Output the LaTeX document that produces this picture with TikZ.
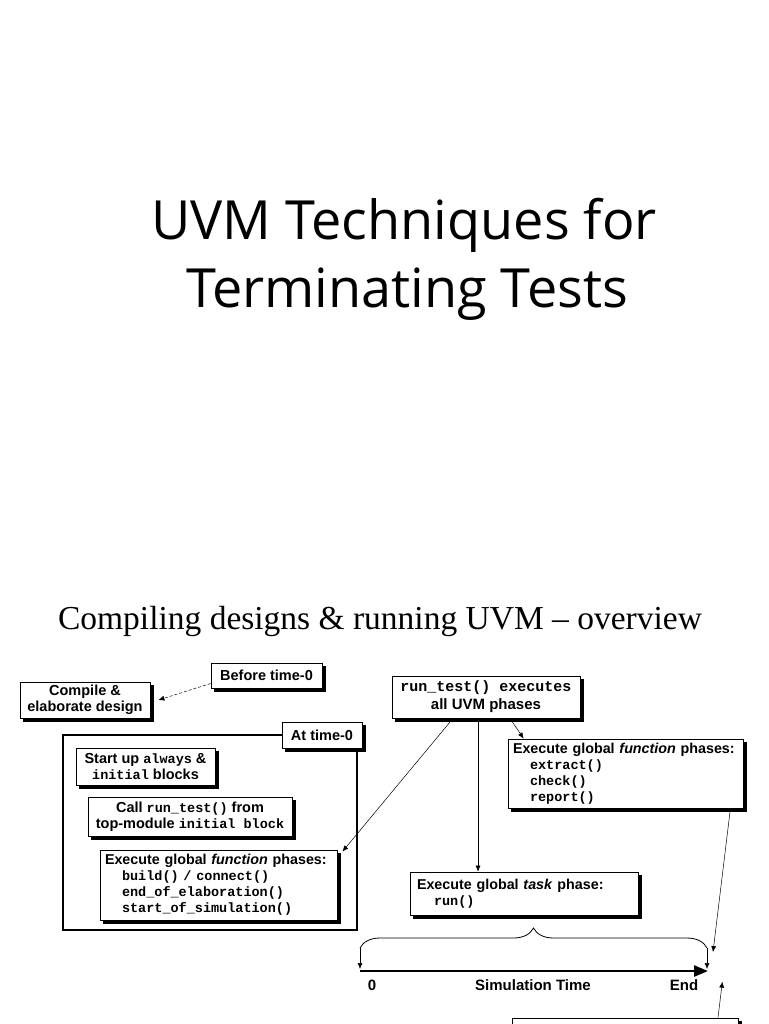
\documentclass[tikz,border=0pt]{standalone}
\usepackage{fontspec}
\setmainfont{Liberation Sans}
\newfontfamily\monof{Liberation Mono}
\newfontfamily\titlef{Open Sans}
\newfontfamily\subf{Liberation Serif}
\newcommand\mytt[1]{{\monof\fontsize{13.5}{16}\selectfont #1}}
\usetikzlibrary{shadows,arrows.meta,decorations.pathreplacing}
\begin{document}
\begin{tikzpicture}[x=1pt,y=-1pt,
  box/.style={draw=black,line width=0.8pt,fill=white,inner sep=0pt,
    copy shadow={shadow xshift=3pt,shadow yshift=-3pt,fill=black,draw=black},
    font=\fontsize{14.5}{16}\selectfont\bfseries},
  phasebox/.style={box,font=\fontsize{14.3}{16}\selectfont\bfseries,align=left},
  conn/.style={line width=0.5pt,-{Latex[length=6pt,width=5pt]}},
  lbl/.style={font=\fontsize{15}{16}\selectfont\bfseries,inner sep=0pt,anchor=base}]
\useasboundingbox (0,0) rectangle (768,1024);
\clip (0,0) rectangle (768,1024);
% titles
\node[font=\titlef\fontsize{54}{68}\selectfont,align=center,anchor=base] (t1) at (404,240) {UVM Techniques for};
\node[font=\titlef\fontsize{54}{68}\selectfont,align=center,anchor=base] (t2) at (407,307) {Terminating Tests};
\node[font=\subf\fontsize{33.5}{36}\selectfont,anchor=base] (sub) at (380,629) {Compiling designs \& running UVM – overview};
% left part
\node[box,minimum width=130pt,minimum height=36pt,align=center] (compile) at (85,700) {Compile \&\\elaborate design};
\node[box,minimum width=111pt,minimum height=25pt] (before) at (266.5,675.5) {Before time-0};
\draw[line width=0.5pt,densely dashed,-{Latex[length=6pt,width=5pt]}] ([yshift=-8pt]before.west) -- ([xshift=8pt]compile.east);
\draw[line width=2.5pt] (63,735) coordinate (fa) rectangle (357,930) coordinate (fb);
\node[box,minimum width=80pt,minimum height=26pt] (at0) at (322,735) {At time-0};
\node[box,minimum width=139pt,minimum height=37pt,align=center] (start) at (145.5,766.5) {Start up \mytt{always} \&\\\mytt{initial} blocks};
\node[box,minimum width=204pt,minimum height=39pt,align=center] (call) at (190,816.5) {Call \mytt{run\_test()} from\\top-module \mytt{initial block}};
\node[phasebox,minimum width=237pt,minimum height=70pt,text width=227pt] (fl) at (218.5,885) {Execute global \textit{function} phases:\\
\hspace*{17pt}\mytt{build() / connect()}\\
\hspace*{17pt}\mytt{end\_of\_elaboration()}\\
\hspace*{17pt}\mytt{start\_of\_simulation()}};
% right part
\node[box,minimum width=188pt,minimum height=42pt,align=center,font=\fontsize{15}{18}\selectfont\bfseries] (rt) at (486,697) {{\monof\fontsize{15}{18}\selectfont run\_test() executes}\\all UVM phases};
\node[phasebox,minimum width=235pt,minimum height=69pt,text width=225pt] (ex) at (625.5,773.5) {Execute global \textit{function} phases:\\
\hspace*{17pt}\mytt{extract()}\\
\hspace*{17pt}\mytt{check()}\\
\hspace*{17pt}\mytt{report()}};
\node[phasebox,minimum width=228pt,minimum height=43pt,text width=214pt] (task) at (524,893.5) {Execute global \textit{task} phase:\\
\hspace*{17pt}\mytt{run()}};
\node[box,minimum width=226pt,minimum height=40pt] (when) at (625,1038) {};
% connectors
\draw[conn] ([xshift=-33pt]rt.south) -- ([xshift=5pt,yshift=-2pt]fl.north east);
\draw[conn] ([xshift=-8pt]rt.south) -- ([xshift=-46pt]task.north);
\draw[conn] ([xshift=24pt]rt.south) -- ([xshift=16pt]ex.north west);
\coordinate (endup) at (713,952);
\draw[conn] ([xshift=-13pt]ex.south east) -- (endup);
% time axis
\coordinate (bl) at (360,948);
\coordinate (br) at (707,948);
\coordinate (a0) at (360,969);
\coordinate (a1) at (707,969);
\draw[line width=0.8pt,decorate,decoration={brace,amplitude=20pt}] (bl) -- (br);
\draw[conn] (bl) -- (a0);
\draw[conn] (br) -- (a1);
\draw[line width=2.5pt,-{Triangle[length=14pt,width=11pt]}] (360,971) coordinate (ax0) -- (708,971) coordinate (ax1);
\node[lbl] (zero) at (372,990) {0};
\node[lbl] (simt) at (533,990) {Simulation Time};
\node[lbl] (endl) at (684,990) {End};
\draw[conn] ([xshift=93pt]when.north) -- ([xshift=24pt,yshift=3pt]endl.east);
\end{tikzpicture}
\end{document}
